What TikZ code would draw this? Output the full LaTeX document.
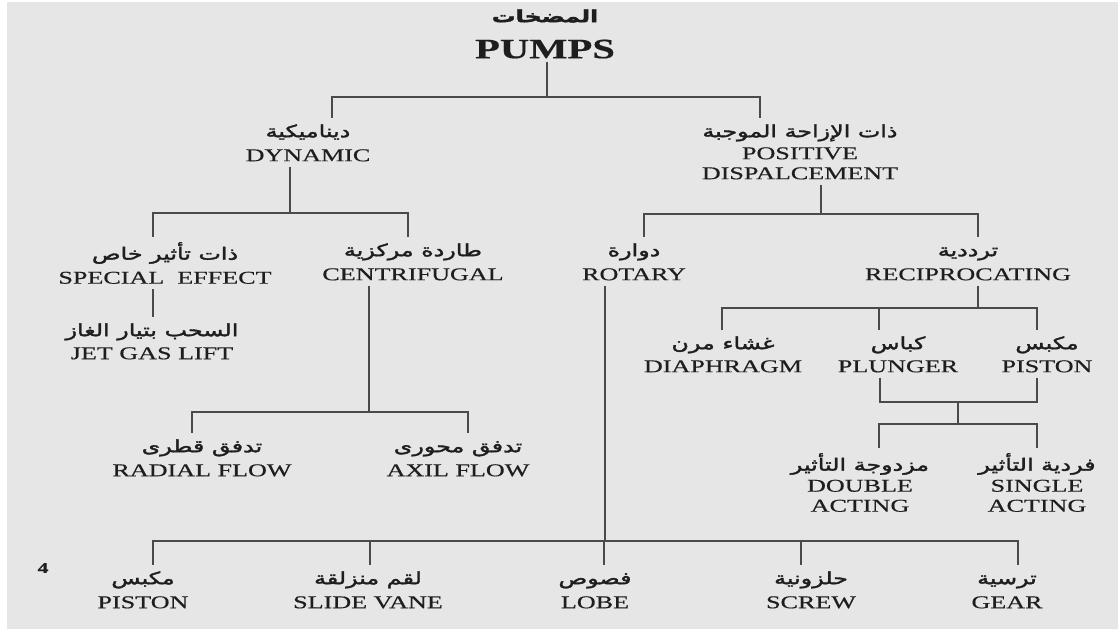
\documentclass[tikz,border=0pt]{standalone}
\usepackage{fontspec}
\setmainfont[FakeStretch=1.45,FakeBold=0.5]{Liberation Serif}
\newfontfamily\arfont[Script=Arabic,FakeStretch=1.4,FakeBold=2]{DejaVu Sans}
\TeXXeTstate=1
\newcommand\ar[1]{{\arfont\fontsize{17}{20}\selectfont\strut\beginR #1\endR}}
\usepackage{tikz}
\definecolor{bggray}{HTML}{E6E6E6}
\definecolor{linegray}{HTML}{4A4A4A}
\definecolor{inkcol}{HTML}{1E1E1E}

\begin{document}
\begin{tikzpicture}[x=1pt, y=-1pt, lbl/.style={align=center, anchor=north, inner xsep=0pt, inner ysep=5pt, text=inkcol, font=\fontsize{18}{20}\selectfont}, conn/.style={draw=linegray, line width=1.4pt}]
\useasboundingbox (0,0) rectangle (1118,634);
\fill[white] (0,0) rectangle (1118,634);
\fill[bggray] (7,2) rectangle (1118,629);
\node[lbl, inner ysep=3pt, font=\fontsize{28}{30}\selectfont\bfseries](pumps) at (545,5){\ar{المضخات}\\[6pt]PUMPS};
\node[lbl](dyn) at (308,118){\ar{ديناميكية}\\[4pt]DYNAMIC};
\node[lbl](pd) at (800,118){\ar{ذات الإزاحة الموجبة}\\[2pt]POSITIVE\\DISPALCEMENT};
\node[lbl](spe) at (165,237){\ar{ذات تأثير خاص}\\[4pt]SPECIAL\ \ EFFECT};
\node[lbl](cen) at (413,237){\ar{طاردة مركزية}\\[4pt]CENTRIFUGAL};
\node[lbl](rot) at (634,237){\ar{دوارة}\\[4pt]ROTARY};
\node[lbl](rec) at (968,237){\ar{ترددية}\\[4pt]RECIPROCATING};
\node[lbl](jet) at (152,317){\ar{السحب بتيار الغاز}\\[3pt]JET GAS LIFT};
\node[lbl](dia) at (723,330){\ar{غشاء مرن}\\[3pt]DIAPHRAGM};
\node[lbl](plu) at (898,330){\ar{كباس}\\[3pt]PLUNGER};
\node[lbl](pis) at (1047,330){\ar{مكبس}\\[3pt]PISTON};
\node[lbl](rad) at (202,433){\ar{تدفق قطرى}\\[4pt]RADIAL FLOW};
\node[lbl](axi) at (458,433){\ar{تدفق محورى}\\[4pt]AXIL FLOW};
\node[lbl](dbl) at (860,448){\ar{مزدوجة التأثير}\\[1pt]DOUBLE\\ACTING};
\node[lbl](sgl) at (1037,448){\ar{فردية التأثير}\\[1pt]SINGLE\\ACTING};
\node[lbl](bpis) at (143,565){\ar{مكبس}\\[4pt]PISTON};
\node[lbl](sli) at (368,565){\ar{لقم منزلقة}\\[4pt]SLIDE VANE};
\node[lbl](lob) at (595,565){\ar{فصوص}\\[4pt]LOBE};
\node[lbl](scr) at (811,565){\ar{حلزونية}\\[4pt]SCREW};
\node[lbl](gea) at (1007,565){\ar{ترسية}\\[4pt]GEAR};
\node[text=inkcol, font=\fontsize{15}{15}\selectfont\bfseries](pg) at (43,568){4};
\coordinate (jp) at (547,97);
\coordinate (jd) at (290,213);
\coordinate (jv) at (821,214);
\coordinate (jc) at (369,412);
\coordinate (jr) at (605,541);
\coordinate (jq) at (978,308);
\coordinate (jk) at (958,402);
\coordinate (jm) at (958,424);
\draw[conn] (pumps.south -| jp) -- (jp) -| ([xshift=24]dyn.north);
\draw[conn] (jp) -| ([xshift=-40]pd.north);
\draw[conn] (dyn.south -| jd) -- (jd) -| ([xshift=-12]spe.north);
\draw[conn] (jd) -| ([xshift=-5]cen.north);
\draw[conn] (pd.south -| jv) -- (jv) -| ([xshift=10]rot.north);
\draw[conn] (jv) -| ([xshift=10]rec.north);
\draw[conn] ([xshift=-12]spe.south) -- ([xshift=-12]spe.south |- jet.north);
\draw[conn] (cen.south -| jc) -- (jc) -| ([xshift=-10]rad.north);
\draw[conn] (jc) -| ([xshift=10]axi.north);
\draw[conn] (rot.south -| jr) -- (jr) -| ([xshift=10]bpis.north);
\draw[conn] (jr) -| ([xshift=11]gea.north);
\draw[conn] ([xshift=2]sli.north) -- ([xshift=2]sli.north |- jr);
\draw[conn] ([xshift=9]lob.north) -- ([xshift=9]lob.north |- jr);
\draw[conn] ([xshift=-10]scr.north) -- ([xshift=-10]scr.north |- jr);
\draw[conn] (rec.south -| jq) -- (jq) -| ([xshift=-1]dia.north);
\draw[conn] (jq) -| ([xshift=-10]pis.north);
\draw[conn] ([xshift=-19]plu.north) -- ([xshift=-19]plu.north |- jq);
\draw[conn] ([xshift=-18]plu.south) |- (jk);
\draw[conn] ([xshift=-10]pis.south) |- (jk);
\draw[conn] (jk) -- (jm) -| ([xshift=19]dbl.north);
\draw[conn] (jm) -| (sgl.north);
\end{tikzpicture}
\end{document}
